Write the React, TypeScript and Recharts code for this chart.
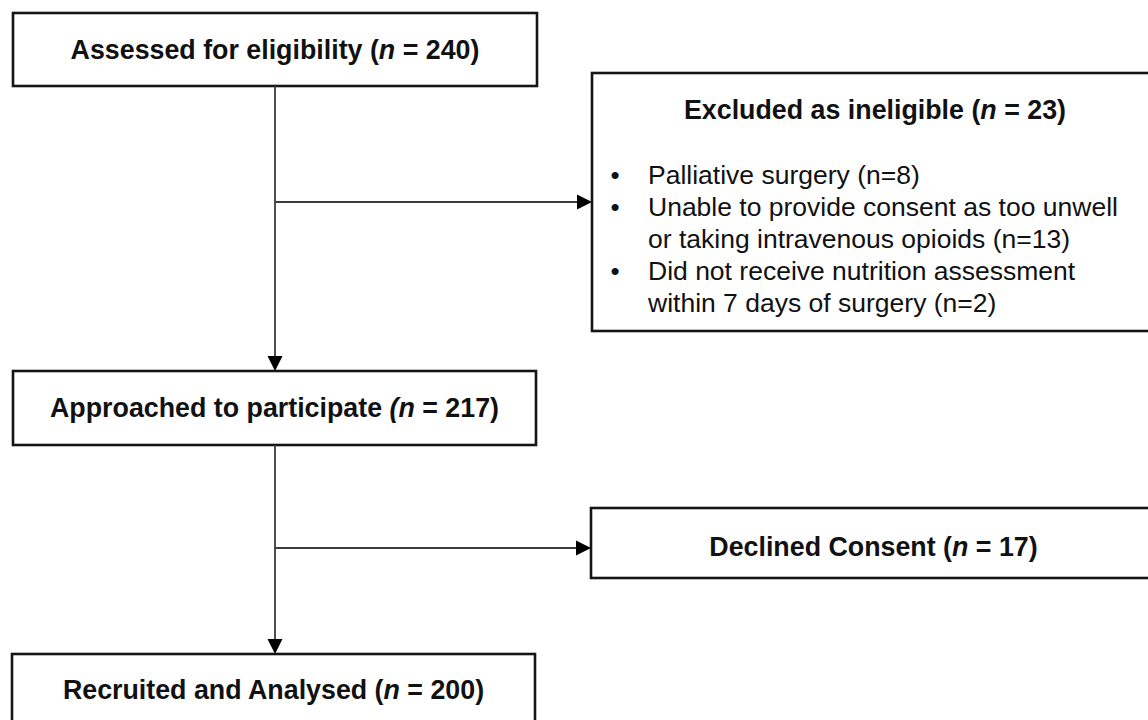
import React from 'react';
import { ComposedChart, XAxis, YAxis, ReferenceArea, ReferenceLine } from 'recharts';

// ---- data ----
const stageLabels = ['Assessed for eligibility', 'Approached to participate', 'Recruited and Analysed'];
const stageCounts = [240, 217, 200];
const exclusionLabels = ['Excluded as ineligible', 'Declined Consent'];
const exclusionCounts = [23, 17];
const reasonLines = [
  ['Palliative surgery'],
  ['Unable to provide consent as too unwell', 'or taking intravenous opioids'],
  ['Did not receive nutrition assessment', 'within 7 days of surgery'],
];
const reasonCounts = [8, 13, 2];

// ---- layout (positions in chart units) ----
const W = 1148;
const H = 720;
const FONT = '"Liberation Sans", Arial, Helvetica, sans-serif';
const stageBoxes = [
  { x1: 13, x2: 537, y1: 13, y2: 86, ty: 50, italicParen: false },
  { x1: 13, x2: 536, y1: 371, y2: 445, ty: 408, italicParen: true },
  { x1: 12, x2: 535, y1: 654, y2: 728, ty: 690, italicParen: false },
];
const exclusionBoxes = [
  { x1: 592, x2: 1158, y1: 73, y2: 331, ty: 110 },
  { x1: 591, x2: 1156, y1: 508, y2: 578, ty: 547 },
];
const trunkX = 275;
const branchYs = [202, 548];
const bulletX = 615;
const bulletTextX = 648;
const bulletStartY = 175;
const bulletStep = 32;

const BOX_STROKE = '#151515';
const LINE_STROKE = '#3c3c3c';
const TITLE_SIZE = 26.8;
const BODY_SIZE = 26.5;

function Title({ x, y, label, n, italicParen }: any) {
  return (
    <text x={x} y={y} textAnchor="middle" dominantBaseline="central" fontFamily={FONT} fontWeight="bold" fontSize={TITLE_SIZE} fill="#111">
      {label + ' '}
      {italicParen ? (
        <tspan fontStyle="italic">(n</tspan>
      ) : (
        <>
          <tspan>(</tspan>
          <tspan fontStyle="italic">n</tspan>
        </>
      )}
      <tspan>{' = ' + n + ')'}</tspan>
    </text>
  );
}

function makeBoxShape(title: React.ReactNode | null, extra?: (p: any) => React.ReactNode) {
  return (p: any) => {
    const { x, y, width, height } = p;
    return (
      <g>
        <rect x={x} y={y} width={width} height={height} fill="#fff" stroke={BOX_STROKE} strokeWidth={2.6} />
        {title}
        {extra ? extra(p) : null}
      </g>
    );
  };
}

function arrowShape(head: boolean) {
  return (p: any) => {
    const { x1, y1, x2, y2 } = p;
    const dx = x2 - x1;
    const dy = y2 - y1;
    const len = Math.sqrt(dx * dx + dy * dy) || 1;
    const ux = dx / len;
    const uy = dy / len;
    const L = 15;
    const hw = 7.5;
    const bx = x2 - ux * L;
    const by = y2 - uy * L;
    const pts = `${x2},${y2} ${bx - uy * hw},${by + ux * hw} ${bx + uy * hw},${by - ux * hw}`;
    return (
      <g>
        <line x1={x1} y1={y1} x2={head ? bx : x2} y2={head ? by : y2} stroke={LINE_STROKE} strokeWidth={1.8} />
        {head ? <polygon points={pts} fill="#000" /> : null}
      </g>
    );
  };
}

function bulletList(p: any) {
  const items: React.ReactNode[] = [];
  let line = 0;
  reasonLines.forEach((lines, i) => {
    lines.forEach((t, j) => {
      const yy = bulletStartY + line * bulletStep;
      const txt = j === lines.length - 1 ? `${t} (n=${reasonCounts[i]})` : t;
      if (j === 0) {
        items.push(
          <text key={`b${i}`} x={bulletX} y={yy} textAnchor="middle" dominantBaseline="central" fontFamily={FONT} fontSize={26} fill="#111">
            •
          </text>
        );
      }
      items.push(
        <text key={`t${i}-${j}`} x={bulletTextX} y={yy} dominantBaseline="central" fontFamily={FONT} fontSize={BODY_SIZE} fill="#111">
          {txt}
        </text>
      );
      line += 1;
    });
  });
  return <g>{items}</g>;
}

export default function App() {
  return (
    <div style={{ position: 'absolute', left: 0, top: 0, width: W, height: H, background: '#fff' }}>
      <ComposedChart width={W} height={H} data={[]} margin={{ top: 0, right: 0, bottom: 0, left: 0 }}>
        <XAxis type="number" dataKey="x" domain={[0, W]} hide allowDataOverflow />
        <YAxis type="number" dataKey="y" domain={[0, H]} hide reversed allowDataOverflow />

        {/* connectors */}
        <ReferenceLine
          segment={[{ x: trunkX, y: stageBoxes[0].y2 }, { x: trunkX, y: stageBoxes[1].y1 }]}
          ifOverflow="visible"
          shape={arrowShape(true)}
        />
        <ReferenceLine
          segment={[{ x: trunkX, y: stageBoxes[1].y2 }, { x: trunkX, y: stageBoxes[2].y1 }]}
          ifOverflow="visible"
          shape={arrowShape(true)}
        />
        {branchYs.map((by, i) => (
          <ReferenceLine
            key={`br${i}`}
            segment={[{ x: trunkX, y: by }, { x: exclusionBoxes[i].x1, y: by }]}
            ifOverflow="visible"
            shape={arrowShape(true)}
          />
        ))}

        {/* stage boxes */}
        {stageBoxes.map((b, i) => (
          <ReferenceArea
            key={`s${i}`}
            x1={b.x1}
            x2={b.x2}
            y1={b.y1}
            y2={b.y2}
            ifOverflow="visible"
            shape={makeBoxShape(
              <Title x={(b.x1 + b.x2) / 2} y={b.ty} label={stageLabels[i]} n={stageCounts[i]} italicParen={b.italicParen} />
            )}
          />
        ))}

        {/* exclusion boxes */}
        {exclusionBoxes.map((b, i) => (
          <ReferenceArea
            key={`e${i}`}
            x1={b.x1}
            x2={b.x2}
            y1={b.y1}
            y2={b.y2}
            ifOverflow="visible"
            shape={makeBoxShape(
              <Title x={(b.x1 + b.x2) / 2} y={b.ty} label={exclusionLabels[i]} n={exclusionCounts[i]} italicParen={false} />,
              i === 0 ? bulletList : undefined
            )}
          />
        ))}
      </ComposedChart>
    </div>
  );
}
